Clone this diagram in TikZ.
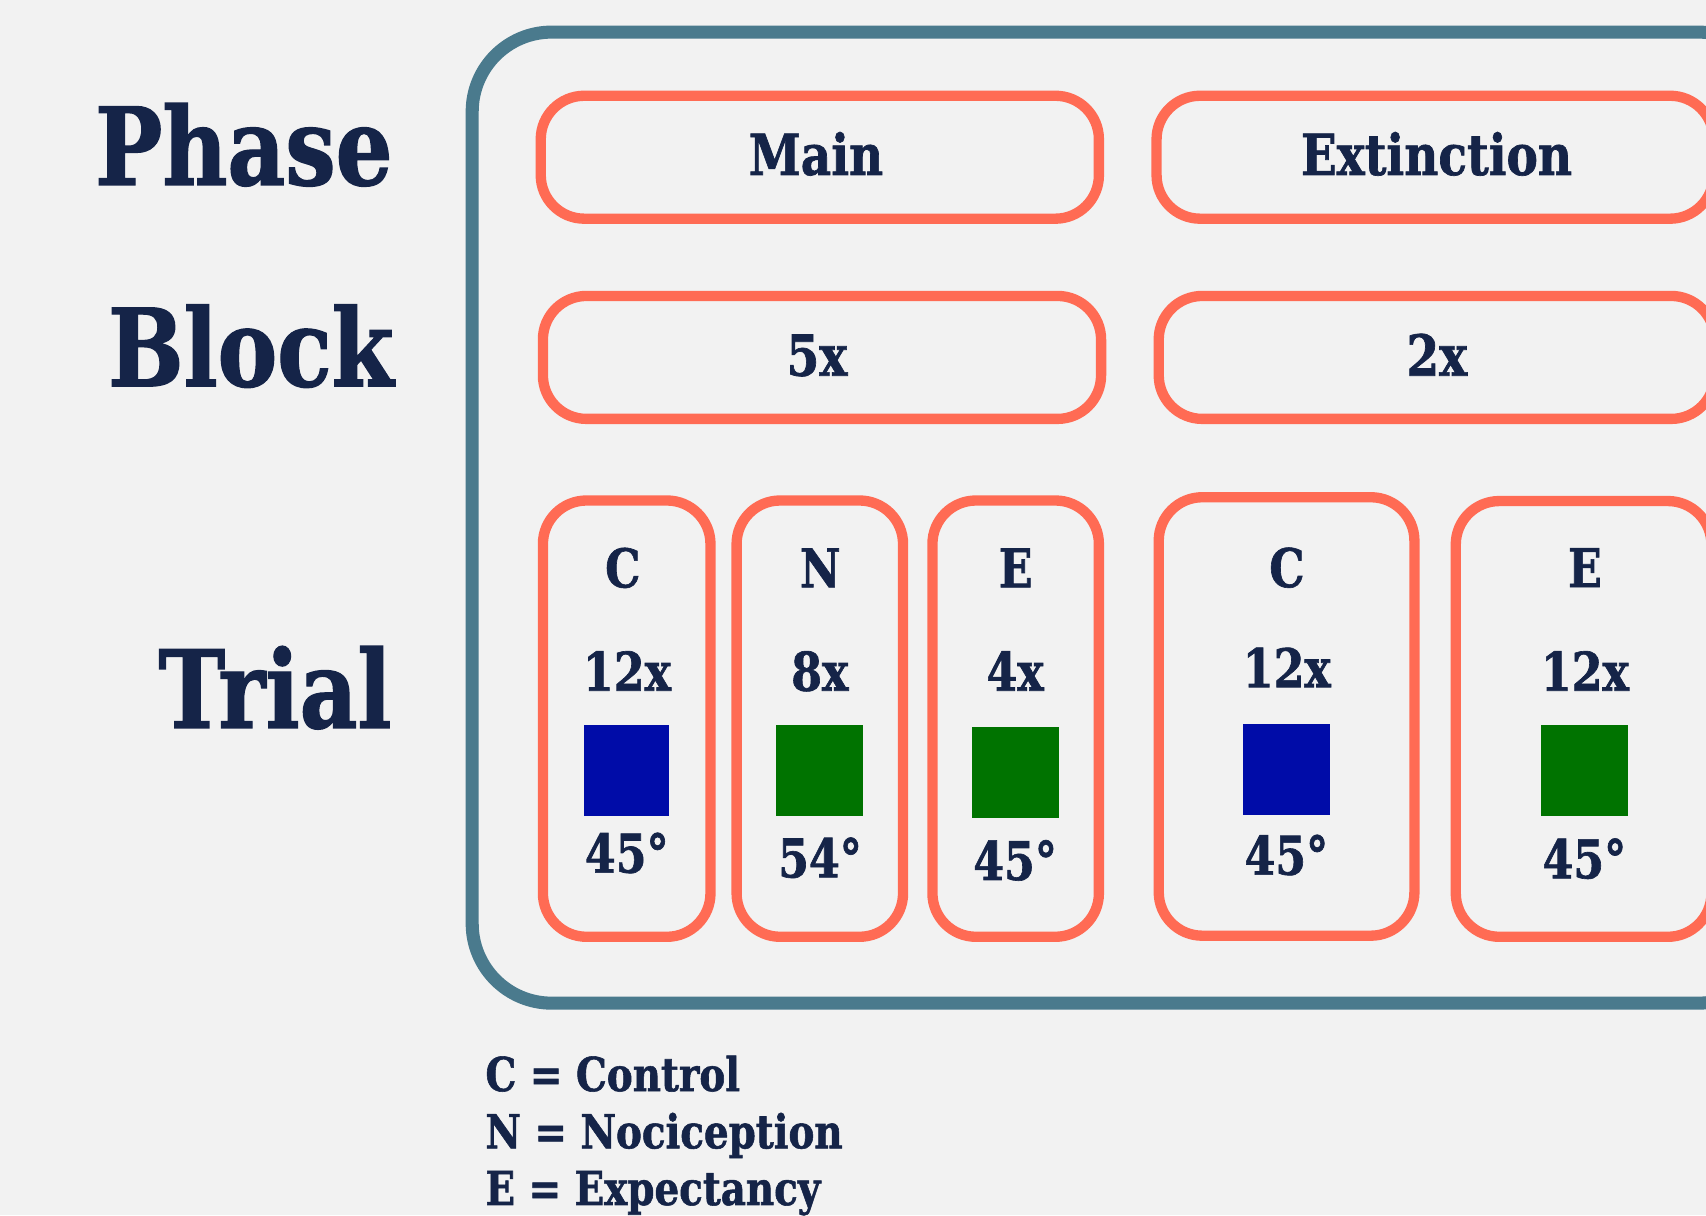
\documentclass[tikz,border=0pt]{standalone}
\usepackage{fontspec}
\setmainfont{DejaVu Serif}[FakeStretch=0.83, BoldFeatures={FakeBold=1.2}]
\definecolor{paper}{HTML}{F2F2F2}
\definecolor{navy}{HTML}{152448}
\definecolor{coral}{HTML}{FF6B54}
\definecolor{steel}{HTML}{4A7A8D}
\definecolor{cueblue}{HTML}{000CA8}
\definecolor{cuegreen}{HTML}{007300}
\newcommand\fs[1]{\bfseries\fontsize{#1}{#1}\selectfont}
\tikzset{
  outerframe/.style={draw=steel, line width=12pt, rounded corners=73pt, inner sep=0pt},
  cbox/.style={draw=coral, line width=9.5pt, rounded corners=40pt, inner sep=0pt},
  rowlabel/.style={text=navy, font=\fs{99}, anchor=base east, inner sep=0pt},
  headtext/.style={text=navy, font=\fs{52}, anchor=base, inner sep=0pt},
  trialtext/.style={text=navy, font=\fs{49}, anchor=base, inner sep=0pt},
  legendtext/.style={text=navy, font=\fs{43}, anchor=base west, inner sep=0pt},
  cue/.style={inner sep=0pt, minimum width=80pt, minimum height=84pt},
}
\begin{document}
\begin{tikzpicture}[x=1pt,y=-1pt]
\useasboundingbox (0,0) rectangle (1568,1117);
\clip (0,0) rectangle (1568,1117);
\fill[paper] (0,0) rectangle (1568,1117);

% row labels
\node[rowlabel] (phaseLbl) at (361,170) {Phase};
\node[rowlabel] (blockLbl) at (362,355) {Block};
\node[rowlabel] (trialLbl) at (360,669) {Trial};

% outer frame
\node[outerframe, minimum width=1200pt, minimum height=892.5pt] (frame) at (1034,475.75) {};

% phases
\node[cbox, minimum width=513pt, minimum height=113pt] (mainPhase) at (753.5,144.5) {};
\node[cbox, minimum width=512pt, minimum height=113pt] (extPhase) at (1319,144.5) {};
\node[headtext] (mainPhaseTxt) at (750,160.8) {Main};
\node[headtext] (extPhaseTxt) at (1320.3,160.8) {Extinction};

% blocks
\node[cbox, minimum width=513pt, minimum height=113pt] (mainBlock) at (755.5,328.5) {};
\node[cbox, minimum width=511pt, minimum height=113pt] (extBlock) at (1320.5,328.5) {};
\node[headtext] (mainBlockTxt) at (750.9,345.3) {5x};
\node[headtext] (extBlockTxt) at (1320.6,345.3) {2x};

% trials, main phase
\node[cbox, minimum width=154pt, minimum height=401pt] (trialMC) at (576,660.5) {};
\node[cbox, minimum width=153pt, minimum height=401pt] (trialMN) at (753.5,660.5) {};
\node[cbox, minimum width=153pt, minimum height=401pt] (trialME) at (933.5,660.5) {};

\node[trialtext] (mcType) at (572.4,539.8) {C};
\node[trialtext] (mcNum) at (576.3,634.8) {12x};
\node[cue, fill=cueblue, minimum width=78pt] (mcCue) at (575.8,708.2) {};
\node[trialtext] (mcAng) at (576.1,802) {45°};

\node[trialtext] (mnType) at (753.9,539.8) {N};
\node[trialtext] (mnNum) at (753.5,634.8) {8x};
\node[cue, fill=cuegreen] (mnCue) at (753.2,708.2) {};
\node[trialtext] (mnAng) at (753.7,806.4) {54°};

\node[trialtext] (meType) at (933.5,539.8) {E};
\node[trialtext] (meNum) at (933,634.8) {4x};
\node[cue, fill=cuegreen] (meCue) at (933.5,710) {};
\node[trialtext] (meAng) at (933,808.8) {45°};

% trials, extinction phase
\node[cbox, minimum width=235pt, minimum height=403pt] (trialXC) at (1182.5,658.5) {};
\node[cbox, minimum width=235pt, minimum height=400.5pt] (trialXE) at (1455.5,660.75) {};

\node[trialtext] (xcType) at (1182.8,539.6) {C};
\node[trialtext] (xcNum) at (1182.7,631.6) {12x};
\node[cue, fill=cueblue] (xcCue) at (1182.4,707.3) {};
\node[trialtext] (xcAng) at (1182.3,803.9) {45°};

\node[trialtext] (xeType) at (1456.7,539.6) {E};
\node[trialtext] (xeNum) at (1456.7,634.8) {12x};
\node[cue, fill=cuegreen] (xeCue) at (1456.2,708.2) {};
\node[trialtext] (xeAng) at (1456.2,807.2) {45°};

% legend
\node[legendtext] (legC) at (446,1002.8) {C = Control};
\node[legendtext] (legN) at (446,1055.4) {N = Nociception};
\node[legendtext] (legE) at (446,1107.5) {E = Expectancy};
\end{tikzpicture}
\end{document}
